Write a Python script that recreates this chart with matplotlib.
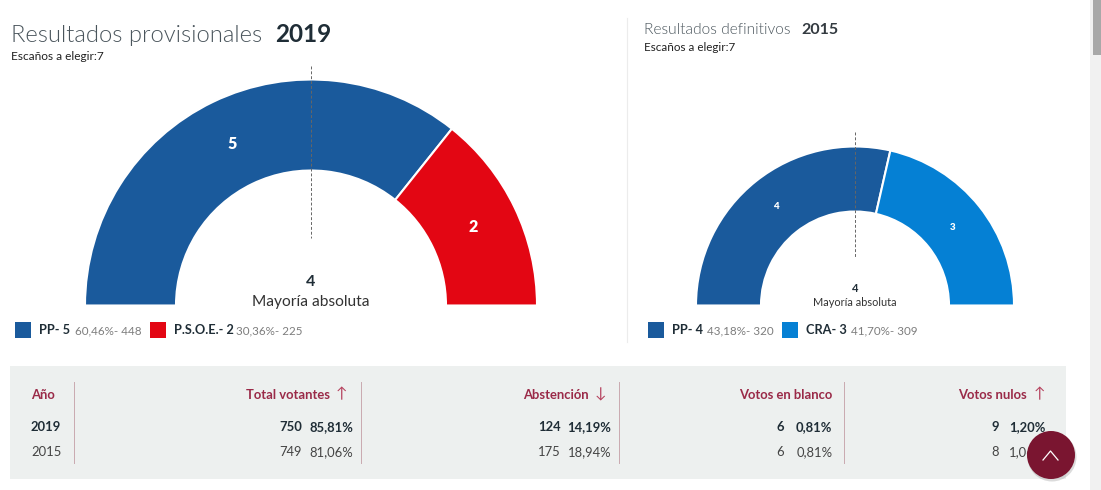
import matplotlib
matplotlib.use("Agg")
import matplotlib.pyplot as plt
from matplotlib.patches import Wedge, Rectangle, Circle

plt.rcParams["font.family"] = ["Lato", "DejaVu Sans"]

seats_2019 = [5, 2]
seats_2015 = [4, 3]
colors_2019 = ["#1a5a9c", "#e30613"]
colors_2015 = ["#1a5a9c", "#0580d4"]

legend_2019 = [("PP- 5", "60,46%- 448"), ("P.S.O.E.- 2", "30,36%- 225")]
legend_2015 = [("PP- 4", "43,18%- 320"), ("CRA- 3", "41,70%- 309")]

headers = ["Total votantes", "Abstención", "Votos en blanco", "Votos nulos"]
arrows = ["↑", "↓", "", "↑"]
years = ["2019", "2015"]
counts = [["750", "124", "6", "9"], ["749", "175", "6", "8"]]
pcts = [["85,81%", "14,19%", "0,81%", "1,20%"], ["81,06%", "18,94%", "0,81%", "1,06%"]]

dark = "#1f2d36"
grey = "#7d7d7d"
wine = "#9a2a48"

fig = plt.figure(figsize=(11.01, 4.9), dpi=100)
ax = fig.add_axes([0, 0, 1, 1])
ax.set_xlim(0, 1101)
ax.set_ylim(490, 0)
ax.axis("off")


def txt(x, y, s, size, color=dark, weight="normal", ha="left", zorder=5):
    ax.text(x, y, s, fontsize=size, color=color, fontweight=weight, ha=ha, va="center", zorder=zorder)


def hemicycle(cx, cy, r_out, r_in, seats, colors):
    # seats fill the half circle from the left, y axis points down here
    total = sum(seats)
    done = 0
    for n, c in zip(seats, colors):
        t1 = 180 + 180 * done / total
        t2 = 180 + 180 * (done + n) / total
        ax.add_patch(Wedge((cx, cy), r_out, t1, t2, width=r_out - r_in, facecolor=c, edgecolor="white", linewidth=1.5))
        done += n


# left chart
hemicycle(311, 305.5, 226, 135, seats_2019, colors_2019)
ax.plot([310.5, 310.5], [66, 238], color="#666666", lw=0.7, ls=(0, (3, 2)), zorder=4)
txt(11, 35, "Resultados provisionales", 17.1, color="#4a555c", weight=300)
txt(275, 35, "2019", 17.5, weight="bold")
txt(11, 57, "Escaños a elegir:7", 8.6, color="#222222")
txt(232, 144, str(seats_2019[0]), 11.5, color="white", weight="heavy", ha="center")
txt(473, 227, str(seats_2019[1]), 11.5, color="white", weight="heavy", ha="center")
txt(311, 282, "4", 11.5, weight="bold", ha="center")
txt(311, 302, "Mayoría absoluta", 11.2, color="#333333", ha="center")

# right chart
ax.plot([626.5, 626.5], [18, 342], color="#ececec", lw=0.8)
hemicycle(855, 305.5, 159, 94, seats_2015, colors_2015)
ax.plot([854.5, 854.5], [132, 258], color="#666666", lw=0.7, ls=(0, (3, 2)), zorder=4)
txt(644, 30.5, "Resultados definitivos", 11.2, color="#4a555c", weight=300)
txt(801, 30.5, "2015", 11.5, color="#333a40", weight="bold")
txt(644, 47.5, "Escaños a elegir:7", 8.4, color="#222222")
txt(776, 206.5, str(seats_2015[0]), 7, color="white", weight="heavy", ha="center")
txt(953, 227.5, str(seats_2015[1]), 7, color="white", weight="heavy", ha="center")
txt(855, 288.5, "4", 8, weight="bold", ha="center")
txt(855, 302.5, "Mayoría absoluta", 7.9, color="#333333", ha="center")

# legends
legend_pos = [(15, 39, 75), (150, 174, 236), (648, 672, 707), (782, 806, 851)]
legend_cols = colors_2019 + colors_2015
for (sq, x1, x2), (a, b), c in zip(legend_pos, legend_2019 + legend_2015, legend_cols):
    ax.add_patch(Rectangle((sq, 322), 16, 16, facecolor=c, edgecolor="none"))
    txt(x1, 330, a, 9.2, weight="bold")
    txt(x2, 331, b, 8.4, color=grey)

# table
ax.add_patch(Rectangle((10, 366), 1056, 113, facecolor="#edf0ef", edgecolor="none", zorder=1))
for x in [73.5, 360.5, 618.5, 843.5]:
    ax.plot([x, x], [382, 463], color="#c9a9b0", lw=0.7, zorder=2)

txt(31, 395, "Año", 9.4, color=wine, weight="bold")
row_y = [427, 452]
for i, y in enumerate(row_y):
    w = "bold" if i == 0 else "normal"
    c = dark if i == 0 else "#444444"
    txt(31, y, years[i], 9.4, color=c, weight=w)
    for j, (x_num, x_pct) in enumerate([(302, 353.5), (561, 611.5), (784, 832.5), (999, 1045.5)]):
        txt(x_num, y, counts[i][j], 9.4, color=c, weight=w, ha="right")
        txt(x_pct, y, pcts[i][j], 9.4, color=c, weight=w, ha="right")

for name, arrow, x_end, x_arrow in zip(headers, arrows, [330, 589, 832, 1027], [341, 600, 0, 1039]):
    txt(x_end, 395, name, 9.4, color=wine, weight="bold", ha="right")
    if arrow:
        txt(x_arrow, 394, arrow, 11, color="#b5405c", ha="center")

# scroll to top button
ax.add_patch(Circle((1052, 457), 24.5, facecolor="#999999", edgecolor="none", alpha=0.35, zorder=6))
ax.add_patch(Circle((1051, 455), 24, facecolor="#7a1530", edgecolor="none", zorder=7))
ax.plot([1043, 1050.5, 1058], [460, 451, 460], color="white", lw=0.9, zorder=8)

# page scrollbar
ax.add_patch(Rectangle((1090, 0), 11, 490, facecolor="#f1f1f1", edgecolor="none"))
ax.add_patch(Rectangle((1093, 0), 8, 55, facecolor="#a8a8a8", edgecolor="none"))

fig.savefig("out.png", dpi=100)
